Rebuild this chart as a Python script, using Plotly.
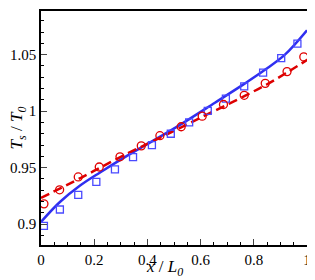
import plotly.graph_objects as go

# Blue square markers
sq_x = [0.011, 0.071, 0.140, 0.208, 0.278, 0.346, 0.417, 0.488, 0.557, 0.627, 0.695, 0.764, 0.835, 0.903, 0.964]
sq_y = [0.8985, 0.913, 0.926, 0.9375, 0.9485, 0.9594, 0.970, 0.980, 0.990, 1.0003, 1.011, 1.022, 1.034, 1.047, 1.0597]

# Red circle markers
ci_x = [0.011, 0.070, 0.140, 0.219, 0.297, 0.377, 0.447, 0.527, 0.606, 0.686, 0.764, 0.843, 0.925, 0.988]
ci_y = [0.918, 0.9304, 0.9418, 0.9506, 0.9596, 0.9693, 0.9783, 0.9862, 0.9956, 1.0059, 1.014, 1.0246, 1.035, 1.048]

# Blue solid curve
bl_x = [0.0, 0.071, 0.147, 0.222, 0.32, 0.504, 0.654, 0.767, 0.842, 0.917, 1.0]
bl_y = [0.902, 0.9196, 0.9342, 0.9458, 0.9600, 0.9852, 1.0075, 1.0246, 1.0366, 1.0500, 1.0716]

# Red dashed curve
rd_x = [0.0, 0.15, 0.30, 0.50, 0.65, 0.77, 0.85, 0.92, 1.0]
rd_y = [0.9232, 0.9410, 0.9596, 0.9825, 1.0000, 1.0140, 1.0238, 1.0335, 1.0453]

fig = go.Figure()
fig.add_trace(go.Scatter(x=bl_x, y=bl_y, mode="lines",
                         line=dict(color="#2f2ff0", width=2.5, shape="spline", smoothing=1.0), showlegend=False))
fig.add_trace(go.Scatter(x=rd_x, y=rd_y, mode="lines",
                         line=dict(color="#dd0000", width=2.5, dash="9px,5px", shape="spline", smoothing=1.0), showlegend=False))
fig.add_trace(go.Scatter(x=sq_x, y=sq_y, mode="markers",
                         marker=dict(symbol="square-open", size=7, color="#4a4aff", line=dict(width=1.3)), showlegend=False))
fig.add_trace(go.Scatter(x=ci_x, y=ci_y, mode="markers",
                         marker=dict(symbol="circle-open", size=8, color="#e00000", line=dict(width=1.3)), showlegend=False))

tickfont = dict(family="Liberation Serif", size=15, color="black")
fig.update_xaxes(range=[0, 1], dtick=0.2, tick0=0, ticks="inside", ticklen=6, tickwidth=1,
                 showline=True, linecolor="black", linewidth=1.5, mirror=True, showgrid=False, zeroline=False,
                 tickfont=tickfont,
                 minor=dict(dtick=0.05, ticks="inside", ticklen=3, tickcolor="black", showgrid=False))
fig.update_yaxes(range=[0.8816, 1.0886], dtick=0.05, tick0=0.9, ticks="inside", ticklen=6, tickwidth=1,
                 showline=True, linecolor="black", linewidth=1.5, mirror=True, showgrid=False, zeroline=False,
                 tickfont=tickfont,
                 minor=dict(dtick=0.01, ticks="inside", ticklen=3, tickcolor="black", showgrid=False))

titlefont = dict(family="Liberation Serif", size=17, color="black")
fig.add_annotation(text="<i>x</i> / <i>L</i><sub><i>0</i></sub>", xref="paper", yref="paper",
                   x=0.466, y=-0.10, xanchor="center", yanchor="middle", showarrow=False, font=titlefont)
fig.add_annotation(text="<i>T</i><sub><i>s</i></sub> / <i>T</i><sub><i>0</i></sub>", xref="paper", yref="paper",
                   x=-0.085, y=0.5, xanchor="center", yanchor="middle", textangle=-90, showarrow=False, font=titlefont)

fig.update_layout(width=307, height=272, margin=dict(l=33, r=8, t=1, b=35),
                  plot_bgcolor="white", paper_bgcolor="white")
fig.write_html("out.html")
